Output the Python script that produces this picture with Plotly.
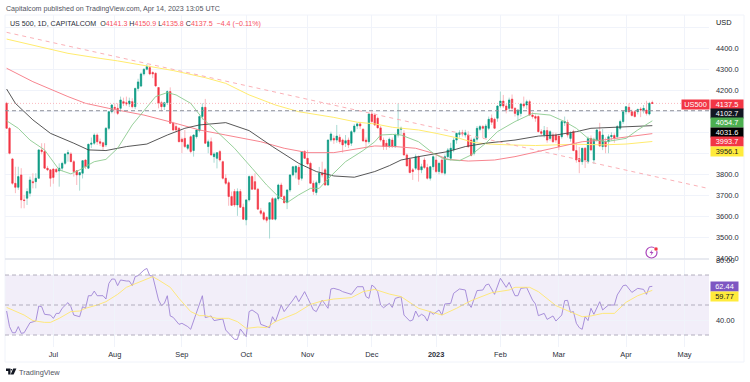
import pandas as pd
import plotly.graph_objects as go
from plotly.subplots import make_subplots

BAR_DATES = pd.bdate_range("2022-06-09", periods=222)

OPEN = [4138,4019,3873,3757,3738,3797,3678,3686,3710,3765,
3765,3781,3916,3908,3829,3821,3825,3823,3816,3829,
3852,3897,3897,3860,3817,3797,3805,3868,3829,3943,
3948,3987,3955,3950,3940,4019,4098,4119,4114,4114,
4146,4141,4135,4146,4122,4209,4220,4278,4300,4308,
4285,4281,4213,4141,4122,4141,4194,4043,4027,4019,
3967,3971,3924,3979,3913,3979,4008,4075,4119,3932,
3955,3884,3876,3908,3860,3781,3760,3694,3718,3654,
3718,3643,3583,3678,3789,3765,3729,3626,3617,3595,
3586,3684,3586,3684,3749,3694,3665,3725,3797,3810,
3833,3781,3908,3876,3852,3757,3713,3760,3805,3821,
3749,3963,3971,3963,3976,3963,3948,3963,3948,4003,
4030,4040,4014,3963,3955,4087,4082,4067,4021,3963,
3948,3932,3963,3932,3987,4014,3995,3892,3871,3821,
3829,3884,3821,3868,3832,3781,3836,3868,3813,3868,
3805,3884,3876,3916,3963,3990,3998,3987,3987,3963,
3900,3967,4014,4027,3975,4019,4067,4062,4067,4125,
4149,4125,4114,4158,4114,4082,4090,4135,4130,4146,
4082,4075,4075,4003,3987,4008,3971,3987,3987,3982,
3979,4045,4047,3971,4003,3913,3875,3860,3924,3860,
3971,3868,3963,4003,3932,3955,3955,3979,3985,3979,
4019,4051,4098,4119,4098,4098,4098,4111,4106,4106,
4087,4141.3]
HIGH = [4145,4025,3878,3836,3836,3829,3702,3733,3789,3805,
3805,3920,3948,3948,3840,3825,3828,3830,3852,3860,
3900,3916,3905,3868,3820,3810,3868,3872,3945,3975,
3995,3995,3970,3955,4025,4100,4135,4138,4138,4170,
4165,4170,4165,4162,4212,4255,4285,4305,4325,4318,
4290,4285,4215,4150,4145,4200,4214,4050,4040,4025,
3975,4011,3945,3985,3990,4015,4080,4138,4159,3965,
3975,3905,3905,3916,3865,3800,3770,3718,3730,3733,
3730,3660,3680,3795,3795,3805,3735,3640,3625,3600,
3668,3692,3690,3755,3760,3700,3730,3800,3840,3842,
3845,3908,3915,3916,3860,3770,3770,3835,3860,3830,
3965,4003,3985,4035,3990,3970,3987,3975,4010,4040,
4045,4050,4020,3975,4090,4100,4090,4075,4030,3975,
3963,3975,3975,3995,4138,4027,4010,3900,3880,3830,
3895,3890,3850,3880,3850,3840,3890,3895,3860,3880,
3895,3925,3950,3975,3998,4010,4012,4012,4005,3975,
3975,4030,4035,4035,4040,4075,4085,4070,4130,4194,
4178,4135,4165,4180,4120,4110,4140,4170,4155,4155,
4095,4085,4080,4015,4030,4025,4010,4000,3998,3990,
4055,4075,4060,4005,4012,3950,3930,3925,3930,3980,
3985,3975,4015,4045,4015,3975,3990,4000,3995,4035,
4060,4100,4125,4138,4108,4105,4112,4120,4130,4150,
4145,4150.9]
LOW = [4019,3895,3750,3710,3726,3638,3638,3654,3694,3733,
3733,3778,3895,3825,3815,3741,3755,3805,3741,3815,
3845,3860,3860,3789,3749,3722,3780,3825,3825,3925,
3940,3940,3935,3916,3930,4010,4090,4090,4082,4098,
4125,4125,4120,4114,4110,4195,4215,4270,4295,4272,
4258,4215,4114,4100,4106,4130,4040,4005,4000,3955,
3900,3925,3915,3900,3884,3970,4000,4060,3945,3900,
3890,3855,3828,3860,3775,3750,3650,3650,3645,3602,
3640,3585,3557,3670,3725,3725,3634,3605,3580,3570,
3494,3585,3580,3675,3690,3660,3634,3715,3790,3780,
3749,3770,3875,3845,3755,3702,3700,3750,3785,3745,
3745,3955,3945,3950,3945,3903,3930,3925,3935,3995,
4015,4015,3955,3930,3945,4045,4030,4020,3955,3916,
3916,3925,3925,3925,3975,3990,3890,3838,3805,3773,
3820,3765,3805,3825,3775,3770,3820,3805,3800,3800,
3795,3870,3865,3905,3945,3975,3980,3975,3925,3885,
3890,3955,4005,3972,3970,4010,4035,4015,4050,4115,
4115,4090,4100,4100,4075,4055,4075,4115,4110,4080,
4065,4050,4000,3985,3975,3950,3960,3950,3950,3915,
3970,4030,3975,3955,3910,3855,3805,3845,3830,3850,
3910,3850,3955,3930,3915,3900,3900,3960,3950,3970,
4010,4040,4085,4090,4075,4070,4085,4072,4090,4080,
4080,4135.8]
CLOSE = [4019,3900,3757,3738,3789,3678,3675,3718,3773,3760,
3781,3916,3908,3829,3821,3781,3785,3812,3829,3852,
3897,3903,3860,3813,3797,3808,3865,3836,3943,3948,
3987,3955,3948,3932,4019,4098,4130,4114,4090,4154,
4138,4135,4149,4122,4209,4240,4278,4300,4313,4278,
4278,4221,4138,4122,4141,4194,4043,4011,4011,3955,
3955,3932,3940,3908,3987,4011,4075,4119,3948,3955,
3892,3897,3903,3868,3781,3757,3694,3652,3654,3718,
3643,3586,3678,3789,3729,3729,3634,3614,3586,3581,
3665,3586,3684,3749,3694,3665,3725,3797,3836,3838,
3776,3908,3876,3849,3757,3718,3760,3805,3797,3749,
3963,3992,3963,3982,3955,3940,3960,3940,4003,4030,
4040,4030,3959,3955,4087,4051,4035,4021,3963,3932,
3932,3967,3932,3987,4014,4019,3892,3840,3808,3813,
3884,3821,3836,3832,3781,3836,3884,3813,3852,3808,
3884,3916,3924,3963,3995,3998,3992,3998,3932,3890,
3967,4019,4027,4019,4030,4062,4048,4019,4125,4149,
4125,4106,4154,4114,4090,4106,4135,4125,4146,4082,
4075,4067,4003,3995,4008,3963,4003,3955,3963,3932,
4051,4051,3987,3995,3913,3868,3860,3924,3868,3971,
3916,3967,4011,3935,3987,3932,3979,3985,3973,4027,
4051,4098,4122,4098,4080,4075,4109,4106,4114,4090,
4138,4137.5]

YELLOW_BARS = [0,9,21,32,38,48,57,68,75,83,92,100,112,120,126,132,141,147,155,160,165,172,181,188,195,204,212,221]
YELLOW_MA = [4444,4416,4376,4352,4340,4316,4294,4260,4233,4178,4130,4098,4071,4048,4040,4024,4011,3995,3971,3951,3944,3940,3937,3940,3943,3940,3944,3956.1]
RED_BARS = [0,9,21,27,35,47,57,66,75,87,95,103,112,126,133,140,146,151,158,167,174,183,190,197,204,212,221]
RED_MA = [4305,4241,4170,4138,4114,4082,4046,4011,3987,3955,3924,3903,3903,3935,3932,3924,3900,3871,3863,3868,3884,3911,3932,3955,3963,3979,3993.7]
BLACK_BARS = [0,3,9,15,23,28,34,41,48,55,61,66,75,83,91,100,106,112,119,126,131,135,141,147,151,157,164,174,182,188,195,200,208,221]
BLACK_MA = [4206,4138,4059,3995,3948,3916,3913,3932,3944,3987,4019,4035,4046,4008,3932,3852,3813,3792,3786,3813,3841,3868,3884,3900,3908,3932,3948,3963,3982,3987,4003,4019,4024,4031.6]
GREEN_BARS = [0,4,8,13,18,22,25,30,34,38,43,48,51,55,58,63,67,72,78,84,89,93,96,100,104,107,111,116,122,126,128,132,135,141,146,150,155,159,164,168,174,180,186,191,195,199,205,212,216,221]
GREEN_MA = [4055,4019,3963,3916,3821,3802,3821,3860,3871,3924,4035,4122,4170,4189,4178,4138,4067,4003,3924,3829,3749,3694,3665,3702,3733,3733,3792,3860,3913,3955,3987,3990,3987,3955,3900,3871,3865,3892,3948,4003,4051,4090,4082,4051,4019,3971,3955,3971,4011,4054.7]

TREND_BARS = [0, 240]
TREND_PRICE = [4476, 3733]
LAST_CLOSE_LINE = 4137.5
REFERENCE_LINE = 4102.7

RSI_BARS = [0,1,2,3,4,5,6,8,10,11,12,13,15,16,17,18,19,21,22,23,25,26,27,28,29,30,31,33,34,35,36,37,38,39,41,42,43,44,45,47,48,49,50,52,53,54,55,56,57,59,60,62,63,65,67,68,70,71,72,74,75,78,79,80,82,83,84,86,87,90,91,92,94,95,98,99,100,102,103,105,106,108,110,111,112,114,115,118,120,122,123,124,125,126,127,128,129,131,132,133,135,136,138,139,140,141,142,143,144,145,146,148,149,150,152,153,155,157,158,159,161,163,164,165,167,169,171,172,174,175,176,178,180,181,182,184,185,187,188,190,191,192,193,194,195,196,197,198,199,200,201,203,204,206,208,209,211,212,214,216,218,219,220,221]
RSI = [46.0,35.6,31.5,31.5,35.6,31.1,31.5,38.2,39.3,49.3,48.9,43.8,43.3,41.1,44.4,44.4,47.8,51.6,48.9,43.3,42.2,48.9,47.8,56.2,56.2,59.3,56.2,56.2,54,64.4,67.3,67.3,62.9,66.7,66,66,62.9,68.9,69.6,73.3,74.4,69.6,69.3,53.3,49.6,51.1,56.2,42.7,41.8,37.1,37.8,35.6,33.8,45.6,56.2,41.6,42.7,39.6,40,40.7,33.3,27.1,27.1,34,28.9,45.6,46.7,44,37.1,34.9,42.2,38.9,50,45.6,53.3,56.2,52.2,58.9,54.9,46.7,45.6,53.3,47.8,60.7,61.1,60,58.9,57.1,62.2,62.2,55.6,54.4,63.3,61.8,58.9,50,48.2,51.1,48.4,54.4,55.6,43.3,39.3,40,46,42.2,43.8,42.7,39.3,45.6,43.8,46.7,43.3,50.7,51.1,57.8,60.7,60,51.1,48.4,59.6,60,63.3,64,57.1,67.8,61.8,65.1,56.2,56.2,61.1,61.6,53.3,50.7,42.9,44.4,40.4,42.7,39.3,43.3,52.9,53.1,45.1,45.6,37.8,34.9,33.8,42.2,39.6,47.8,43.8,52.2,46.7,50,50,56.7,62.9,63.3,58.4,61.1,60.4,57.1,62.2,62.44]
RSI_MA_BARS = [0,2,6,9,13,15,18,22,25,27,31,34,38,41,43,47,50,52,56,59,63,66,68,72,76,79,82,86,89,92,96,99,104,108,112,118,122,126,131,135,141,146,149,154,159,166,172,174,179,182,188,192,197,200,204,208,212,216,221]
RSI_MA = [48.4,46.7,43.3,39.6,38.4,38.4,41.1,45.6,46,47.8,50,52.2,57.1,61.8,63.3,66.7,68.9,66.7,61.8,54.4,45.6,42.9,42.9,41.1,41.1,38.9,34.4,35.3,34.9,38.9,42.2,44.4,50.4,52.7,54,54.9,58.9,60.4,57.3,55.6,47.8,45.1,43.3,47.8,52.9,58.2,60,61.8,61.8,58.9,49.6,46.2,42.2,42.7,44.4,44.4,51.8,56.2,59.77]
RSI_LEVELS = [70, 50, 30]

MONTH_TICKS = ["2022-07-01","2022-08-01","2022-09-01","2022-10-03","2022-11-01","2022-12-01","2023-01-02","2023-02-01","2023-03-01","2023-04-03","2023-05-01"]
MONTH_LABELS = ["Jul","Aug","Sep","Oct","Nov","Dec","<b>2023</b>","Feb","Mar","Apr","May"]
PRICE_TICKS = [4500,4400,4300,4200,4100,4000,3900,3800,3700,3600,3500,3400]
PRICE_LABELS = ["","4400.0","4300.0","4200.0","","","","3800.0","3700.0","3600.0","3500.0","3400.0"]
RSI_TICKS = [80, 40]
RSI_LABELS = ["80.00", "40.00"]

TAGS = ["4137.5", "4102.7", "4054.7", "4031.6", "3993.7", "3956.1"]
TAG_BG = ["#F23645", "#131722", "#4CAF50", "#000000", "#F23645", "#FFEB3B"]
TAG_FG = ["white", "white", "white", "white", "white", "#131722"]
RSI_TAGS = ["62.44", "59.77"]
RSI_TAG_BG = ["#7E57C2", "#FFEB3B"]
RSI_TAG_FG = ["white", "#131722"]

W, H = 750, 382
L, R, T, B = 5, 41, 15, 35
PW, PH = W - L - R, H - T - B
def px(x): return (x - L) / PW
def py(y): return (H - B - y) / PH

FONT = "Liberation Sans"
INK = "#2A2E39"
GRID = "#F0F3FA"
TICK_SIZE = 7.4

fig = make_subplots(rows=2, cols=1, shared_xaxes=True, vertical_spacing=0)
dates = list(BAR_DATES)
def at(bars): return [dates[b] if b < len(dates) else BAR_DATES[-1] + pd.offsets.BDay(b - len(dates) + 1) for b in bars]

fig.add_trace(go.Candlestick(x=dates, open=OPEN, high=HIGH, low=LOW, close=CLOSE,
    increasing=dict(line=dict(color="#A9DAD3", width=1), fillcolor="#A9DAD3"),
    decreasing=dict(line=dict(color="#FBB9BF", width=1), fillcolor="#FBB9BF"),
    whiskerwidth=0, showlegend=False), row=1, col=1)
body_top = [max(o, c) for o, c in zip(OPEN, CLOSE)]
body_low = [min(o, c) for o, c in zip(OPEN, CLOSE)]
fig.add_trace(go.Candlestick(x=dates, open=OPEN, high=body_top, low=body_low, close=CLOSE,
    increasing=dict(line=dict(color="#089981", width=0.5), fillcolor="#089981"),
    decreasing=dict(line=dict(color="#F23645", width=0.5), fillcolor="#F23645"),
    whiskerwidth=0, showlegend=False), row=1, col=1)

for bars, vals, color, width in [(YELLOW_BARS, YELLOW_MA, "#FFEB6E", 1), (RED_BARS, RED_MA, "#F7858F", 1),
                                 (BLACK_BARS, BLACK_MA, "#444444", 0.9), (GREEN_BARS, GREEN_MA, "#8CCB8F", 0.9)]:
    fig.add_trace(go.Scatter(x=at(bars), y=vals, mode="lines", line=dict(color=color, width=width), showlegend=False), row=1, col=1)
fig.add_trace(go.Scatter(x=at(TREND_BARS), y=TREND_PRICE, mode="lines",
    line=dict(color="#F9A8AF", width=0.9, dash="4px,4px"), showlegend=False), row=1, col=1)

fig.add_trace(go.Scatter(x=at(RSI_BARS), y=RSI, mode="lines", line=dict(color="#9F84D6", width=0.9), showlegend=False), row=2, col=1)
fig.add_trace(go.Scatter(x=at(RSI_MA_BARS), y=RSI_MA, mode="lines", line=dict(color="#FFE76E", width=0.9), showlegend=False), row=2, col=1)

x_range = ["2022-06-08 10:48", "2023-05-11 09:36"]
for r in (1, 2):
    fig.update_xaxes(row=r, col=1, range=x_range, rangebreaks=[dict(bounds=["sat", "mon"])],
        tickmode="array", tickvals=MONTH_TICKS, ticktext=MONTH_LABELS, showgrid=True, gridcolor=GRID, gridwidth=1,
        rangeslider_visible=False, zeroline=False, showline=False, ticks="", ticklabelstandoff=2,
        tickfont=dict(family=FONT, size=TICK_SIZE, color=INK), showticklabels=(r == 2))

fig.update_yaxes(row=1, col=1, domain=[0.266, 1], range=[3398, 4558.6], side="right", tickmode="array",
    tickvals=PRICE_TICKS, ticktext=PRICE_LABELS, gridcolor=GRID, zeroline=False, showline=False, ticks="",
    ticklabelstandoff=6, tickfont=dict(family=FONT, size=TICK_SIZE, color=INK))
fig.update_yaxes(row=2, col=1, domain=[0, 0.262], range=[22, 80], side="right", tickmode="array",
    tickvals=RSI_TICKS, ticktext=RSI_LABELS, gridcolor=GRID, zeroline=False, showline=False, ticks="",
    ticklabelstandoff=6, tickfont=dict(family=FONT, size=TICK_SIZE, color=INK))

shapes = [
    dict(type="rect", xref="x2 domain", yref="y2", x0=0, x1=1, y0=RSI_LEVELS[2], y1=RSI_LEVELS[0],
         fillcolor="rgba(126,87,194,0.1)", line_width=0, layer="below"),
    dict(type="line", xref="x domain", yref="y", x0=0, x1=1, y0=REFERENCE_LINE, y1=REFERENCE_LINE,
         line=dict(color="#8E9099", width=1, dash="4px,3px")),
    dict(type="line", xref="x domain", yref="y", x0=0, x1=1, y0=LAST_CLOSE_LINE, y1=LAST_CLOSE_LINE,
         line=dict(color="#F9A8AF", width=0.8, dash="1px,2px")),
    dict(type="rect", xref="paper", yref="paper", x0=px(5), x1=px(744), y0=py(362), y1=py(15),
         line=dict(color="#F0F3FA", width=1), layer="below"),
    dict(type="line", xref="paper", yref="paper", x0=px(5), x1=px(709), y0=py(259), y1=py(259),
         line=dict(color="#E0E3EB", width=1.5)),
    dict(type="circle", xref="paper", yref="paper", x0=px(646), x1=px(657), y0=py(258), y1=py(247),
         line=dict(color="#AB47BC", width=1.2), fillcolor="white"),
    dict(type="circle", xref="paper", yref="paper", x0=px(654), x1=px(658), y0=py(251), y1=py(247),
         line=dict(color="white", width=0.5), fillcolor="#F23645"),
    dict(type="path", xref="paper", yref="paper",
         path=f"M {px(652.5)} {py(249.5)} L {px(649.5)} {py(253)} L {px(651.5)} {py(253)} L {px(650.5)} {py(256)} L {px(653.5)} {py(252)} L {px(651.5)} {py(252)} Z",
         fillcolor="#AB47BC", line_width=0),
    dict(type="path", xref="paper", yref="paper",
         path=f"M {px(6)} {py(368.5)} H {px(10.5)} V {py(374.5)} H {px(8.2)} V {py(371)} H {px(6)} Z",
         fillcolor="#131722", line_width=0),
    dict(type="circle", xref="paper", yref="paper", x0=px(10.6), x1=px(12.2), y0=py(370.6), y1=py(369),
         fillcolor="#131722", line_width=0),
    dict(type="path", xref="paper", yref="paper",
         path=f"M {px(13.2)} {py(368.5)} H {px(16.4)} L {px(13.6)} {py(374.5)} H {px(10.6)} Z",
         fillcolor="#131722", line_width=0),
]
for lvl in RSI_LEVELS:
    shapes.append(dict(type="line", xref="x2 domain", yref="y2", x0=0, x1=1, y0=lvl, y1=lvl,
                       line=dict(color="#B2AEBE", width=1, dash="4px,3px")))

ann = []
def text(x, y, s, size=7, color=INK, anchor="left"):
    ann.append(dict(xref="paper", yref="paper", x=px(x), y=py(y), text=s, showarrow=False,
                    xanchor=anchor, yanchor="middle", align="left", font=dict(family=FONT, size=size, color=color),
                    borderpad=0, xshift=-1))
def tag(x, width, y, s, bg, fg):
    ann.append(dict(xref="paper", yref="paper", x=px(x), y=py(y), text=s, showarrow=False, xanchor="left", yanchor="middle",
                    bgcolor=bg, width=width, height=8.6, borderpad=0, align="center",
                    font=dict(family=FONT, size=7.4, color=fg)))

text(6, 9, "Capitalcom published on TradingView.com, Apr 14, 2023 13:05 UTC", size=7.1, color="#50535E")
N = "#F7525F"
def num(s): return f'<span style="color:{N}">{s}</span>'
text(10, 24, "US 500, 1D, CAPITALCOM  O" + num("4141.3") + " H" + num("4150.9") + " L" + num("4135.8") + " C" + num("4137.5") + "  " + num("−4.4 (−0.11%)"), size=7.1)
text(716, 22.5, "USD", size=7.4, color="#131722")
text(19, 372, "TradingView", size=7.4, color="#50535E")

tag(681, 27, 104, "US500", "#F23645", "white")
for label, bg, fg, y in zip(TAGS, TAG_BG, TAG_FG, [104, 113.3, 122.6, 132, 141.5, 151]):
    tag(710, 32, y, label, bg, fg)
for label, bg, fg, y in zip(RSI_TAGS, RSI_TAG_BG, RSI_TAG_FG, [286.7, 296.3]):
    tag(710, 27, y, label, bg, fg)

fig.update_layout(width=W, height=H, margin=dict(l=L, r=R, t=T, b=B, pad=0), paper_bgcolor="white", plot_bgcolor="white",
                  boxgap=0.35, showlegend=False, shapes=shapes, annotations=ann, hovermode=False)
fig.write_html("out.html", config=dict(displayModeBar=False),
               post_script="document.body.style.margin='0';document.documentElement.style.overflow='hidden';")
